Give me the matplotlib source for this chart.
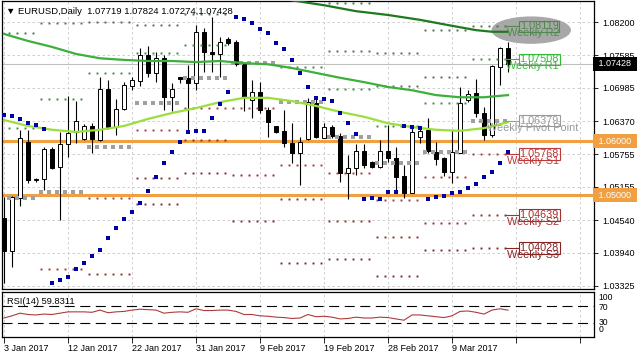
import matplotlib
matplotlib.use("Agg")
import matplotlib.pyplot as plt
from matplotlib.patches import Ellipse
import numpy as np

plt.rcParams['font.family'] = ['Liberation Sans', 'DejaVu Sans']

nan = float('nan')

# daily bars 3 Jan 2017 .. 17 Mar 2017 (the feed has Sunday bars too)
opens = [1.0458, 1.0397, 1.0495, 1.0598, 1.0528, 1.0530, 1.0585, 1.0552, 1.0595, 1.0617,
         1.0604, 1.0628, 1.0602, 1.0696, 1.0626, 1.0659, 1.0702, 1.0711, 1.0759, 1.0726,
         1.0753, 1.0681, 1.0718, 1.0717, 1.0707, 1.0802, 1.0765, 1.0761, 1.0789, 1.0783,
         1.0744, 1.0676, 1.0691, 1.0657, 1.0628, 1.0619, 1.0597, 1.0578, 1.0604, 1.0670,
         1.0606, 1.0626, 1.0610, 1.0541, 1.0550, 1.0582, 1.0561, 1.0552, 1.0582, 1.0569,
         1.0536, 1.0504, 1.0608, 1.0621, 1.0580, 1.0569, 1.0543, 1.0578, 1.0676, 1.0689,
         1.0652, 1.0611, 1.0737, 1.07719]
highs = [1.0497, 1.0499, 1.0621, 1.0621, 1.0532, 1.0589, 1.0589, 1.0617, 1.0683, 1.0674,
         1.0632, 1.0633, 1.0718, 1.0713, 1.0678, 1.0709, 1.0718, 1.0772, 1.0776, 1.0765,
         1.0759, 1.0707, 1.0718, 1.0741, 1.0814, 1.0809, 1.0829, 1.0792, 1.0792, 1.0787,
         1.0746, 1.0713, 1.0709, 1.0663, 1.0628, 1.0657, 1.0633, 1.0608, 1.0680, 1.0681,
         1.0633, 1.0629, 1.0615, 1.0574, 1.0595, 1.0595, 1.0563, 1.0602, 1.0630, 1.0589,
         1.0556, 1.0628, 1.0626, 1.0643, 1.0598, 1.0571, 1.0621, 1.0700, 1.0694, 1.0715,
         1.0663, 1.0741, 1.0774, 1.07824]
lows = [1.0338, 1.0368, 1.0480, 1.0523, 1.0525, 1.0510, 1.0548, 1.0454, 1.0571, 1.0597,
        1.0602, 1.0578, 1.0600, 1.0622, 1.0611, 1.0657, 1.0694, 1.0702, 1.0718, 1.0709,
        1.0657, 1.0656, 1.0707, 1.0615, 1.0694, 1.0728, 1.0728, 1.0718, 1.0778, 1.0739,
        1.0656, 1.0643, 1.0652, 1.0608, 1.0615, 1.0589, 1.0560, 1.0519, 1.0602, 1.0606,
        1.0606, 1.0606, 1.0525, 1.0493, 1.0537, 1.0550, 1.0550, 1.0550, 1.0561, 1.0504,
        1.0495, 1.0504, 1.0597, 1.0578, 1.0556, 1.0536, 1.0523, 1.0578, 1.0672, 1.0645,
        1.0602, 1.0608, 1.0704, 1.07274]
closes = [1.0397, 1.0497, 1.0606, 1.0528, 1.0530, 1.0585, 1.0550, 1.0595, 1.0615, 1.0637,
          1.0628, 1.0604, 1.0696, 1.0626, 1.0659, 1.0704, 1.0713, 1.0759, 1.0726, 1.0753,
          1.0681, 1.0696, 1.0715, 1.0707, 1.0802, 1.0765, 1.0761, 1.0783, 1.0781, 1.0742,
          1.0681, 1.0691, 1.0657, 1.0635, 1.0617, 1.0597, 1.0578, 1.0598, 1.0672, 1.0608,
          1.0626, 1.0610, 1.0541, 1.0550, 1.0582, 1.0556, 1.0552, 1.0582, 1.0569, 1.0534,
          1.0504, 1.0617, 1.0619, 1.0582, 1.0567, 1.0543, 1.0580, 1.0670, 1.0687, 1.0652,
          1.0611, 1.0739, 1.0772, 1.07428]

# parabolic SAR, one dot per bar
sar = [1.0648, 1.0646, 1.0641, 1.0634, 1.0630, 1.0622,
       1.0338, 1.0344, 1.0349, 1.0364, 1.0375, 1.0388, 1.0399, 1.0421, 1.0440, 1.0456,
       1.0469, 1.0486, 1.0508, 1.0534, 1.0560, 1.0580, 1.0598, 1.0617, 1.0619, 1.0619,
       1.0643, 1.0669, 1.0691,
       1.0829, 1.0826, 1.0818, 1.0807, 1.0800, 1.0781, 1.0770, 1.0750, 1.0726, 1.0700,
       1.0680, 1.0678, 1.0674, 1.0652, 1.0634, 1.0613,
       1.0493, 1.0495, 1.0493, 1.0506, 1.0506,
       1.0628, 1.0626, 1.0624,
       1.0493, 1.0497, 1.0499, 1.0504, 1.0506, 1.0513, 1.0521, 1.0534, 1.0543, 1.0560, 1.0580]

# moving averages (read every few bars)
ma_slow_idx = [33, 36, 40, 44, 48, 52, 56, 59, 61, 63]
ma_slow = [1.0868, 1.0860, 1.0851, 1.0840, 1.0833, 1.0824, 1.0813, 1.0805, 1.0802, 1.0802]
ma_idx = list(range(0, 64, 3))
ma_mid = [1.0798, 1.0785, 1.0774, 1.0761, 1.0753, 1.0750, 1.0748, 1.0748, 1.0746, 1.0748, 1.0744,
          1.0742, 1.0735, 1.0726, 1.0717, 1.0709, 1.0700, 1.0694, 1.0685, 1.0681, 1.0681, 1.0685]
ma_fast = [1.0639, 1.0628, 1.0621, 1.0617, 1.0621, 1.0628, 1.0641, 1.0652, 1.0661, 1.0672, 1.0680,
           1.0680, 1.0674, 1.0665, 1.0654, 1.0645, 1.0633, 1.0626, 1.0621, 1.0619, 1.0624, 1.0635]

# weekly pivot levels
week_first = [0, 4, 10, 16, 22, 28, 34, 40, 46, 52, 58]
week_bars = [4, 6, 6, 6, 6, 6, 6, 6, 6, 6, 5]
piv_p = [1.0495, 1.0506, 1.0589, 1.0671, 1.0716, 1.0744, 1.0672, 1.0607, 1.0560, 1.0580, 1.06379]
piv_r1 = [1.0624, 1.0678, 1.0726, 1.0762, 1.0778, nan, 1.0737, 1.0696, 1.0628, 1.0670, 1.07508]
piv_r2 = [1.0800, 1.0818, 1.0820, 1.0814, 1.0834, nan, nan, 1.0766, 1.0701, 1.0718, 1.08119]
piv_r3 = [nan, nan, nan, nan, nan, nan, nan, 1.0855, 1.0763, 1.0805, nan]
piv_s1 = [nan, 1.0364, 1.0495, 1.0621, 1.0661, 1.0661, 1.0556, 1.0541, 1.0491, 1.0534, 1.05768]
piv_s2 = [nan, nan, 1.0354, 1.0531, 1.0602, 1.0538, 1.0493, 1.0453, 1.0423, 1.0449, 1.04639]
piv_s3 = [nan, nan, nan, 1.0484, 1.0542, 1.0453, 1.0375, 1.0382, 1.0351, 1.0399, 1.04028]

rsi = [42, 47, 53, 50, 49, 51, 50, 53, 56, 56,
       56, 55, 60, 54, 56, 57, 60, 62, 61, 60,
       53, 55, 56, 55, 63, 59, 59, 60, 60, 57,
       50, 50, 47, 46, 44, 43, 41, 42, 50, 45,
       46, 44, 40, 41, 44, 42, 42, 44, 43, 40,
       37, 49, 49, 47, 45, 43, 47, 57, 58, 55,
       51, 60, 63, 59.8311]

price_ticks = [1.03325, 1.03940, 1.04540, 1.05155, 1.05755, 1.06370, 1.06985, 1.07585, 1.08200]
date_ticks = [0, 8, 16, 24, 32, 40, 48, 56, 64, 72]
date_labels = ['3 Jan 2017', '12 Jan 2017', '22 Jan 2017', '31 Jan 2017', '9 Feb 2017',
               '19 Feb 2017', '28 Feb 2017', '9 Mar 2017', '', '']
round_levels = [1.06000, 1.05000]

ORANGE = '#F0A040'
GRID = '#C8C8C8'

fig = plt.figure(figsize=(6.37, 3.58), dpi=100)
ax = fig.add_axes([2 / 637, 69 / 358, 592 / 637, 288 / 358])
ax2 = fig.add_axes([2 / 637, 21 / 358, 592 / 637, 45 / 358])

x = np.arange(len(opens))
o = np.array(opens)
c = np.array(closes)

# --- main chart
ax.set_xlim(-0.25, 73.75)
ax.set_ylim(1.03269, 1.08588)
ax.set_axisbelow(True)
ax.grid(True, color=GRID, ls=(0, (3, 3)), lw=0.6)

ax.axhline(closes[-1], color='#C0C0C0', lw=0.8, zorder=1)
for lv in round_levels:
    ax.axhline(lv, color=ORANGE, lw=2.2, zorder=2)

ax.add_patch(Ellipse((65.9, 1.0805), 9.75, 0.0048, color='#A8A8A8', zorder=1.5))

ax.vlines(x, lows, highs, color='black', lw=0.8, zorder=3)
body = np.maximum(np.abs(c - o), 1e-5)
ax.bar(x, body, bottom=np.minimum(o, c), width=0.62,
       color=['white' if cc >= oo else 'black' for oo, cc in zip(o, c)],
       edgecolor='black', linewidth=0.7, zorder=4)

# weekly pivot dots
for k, s in enumerate(week_first):
    xs = s + np.arange(week_bars[k]) + 0.6
    for lv, col, ms, mk in [(piv_r3[k], '#4A6F4A', 1.4, 's'), (piv_r2[k], '#4A6F4A', 1.4, 's'),
                            (piv_r1[k], '#3D8A3D', 1.4, 's'), (piv_p[k], '#A0A0A0', 2.4, 's'),
                            (piv_s1[k], '#A03A3A', 1.4, 's'), (piv_s2[k], '#8E2F2F', 1.4, 's'),
                            (piv_s3[k], '#7A2828', 1.4, 's')]:
        if np.isnan(lv):
            continue
        ax.plot(xs, [lv] * len(xs), ls='none', marker=mk, ms=ms, color=col, mew=0, zorder=5)

ax.plot(ma_slow_idx, ma_slow, color='#1F7A1F', lw=1.6, zorder=6)
ax.plot(ma_idx, ma_mid, color='#3CB03C', lw=1.6, zorder=6)
ax.plot(ma_idx, ma_fast, color='#9ADF3A', lw=1.6, zorder=6)

ax.plot(x, sar, ls='none', marker='s', ms=2.6, color='#0000A8', mew=0, zorder=7)

# labels of the current week's pivots
last = len(week_first) - 1
lab = [(piv_r2[last], 'Weekly R2', '#4E8A4E'), (piv_r1[last], 'Weekly R1', '#33BB33'),
       (piv_p[last], 'Weekly Pivot Point', '#9A9A9A'), (piv_s1[last], 'Weekly S1', '#C03838'),
       (piv_s2[last], 'Weekly S2', '#A53030'), (piv_s3[last], 'Weekly S3', '#862424')]
for lv, name, col in lab:
    ax.plot([62.6, 64.4], [lv, lv], color=col, lw=0.8, zorder=8)
    ax.text(66.1, lv - 0.00128, name, ha='center', va='center', fontsize=7.8,
            color=col, zorder=8)
    ax.text(66.9, lv, f'{lv:.5f}', ha='center', va='center', fontsize=7.8, color=col, zorder=9,
            bbox=dict(boxstyle='square,pad=0.08', fc='none', ec=col, lw=0.8))

ax.text(0.006, 0.965, '\u25bc EURUSD,Daily  %.5f %.5f %.5f,%.5f'
        % (opens[-1], highs[-1], lows[-1], closes[-1]),
        transform=ax.transAxes, fontsize=6.8, va='center', ha='left', zorder=10)

ax.yaxis.tick_right()
ax.set_yticks(price_ticks)
ax.set_yticklabels([f'{t:.5f}' for t in price_ticks])
ax.tick_params(axis='y', length=3, width=0.6, pad=3, labelsize=6.5)
ax.set_xticks(date_ticks)
ax.tick_params(axis='x', length=0, labelbottom=False)

# right-hand price boxes
ytr = ax.get_yaxis_transform()
for lv in round_levels:
    ax.text(1.003, lv, f' {lv:.5f}  ', transform=ytr, ha='left', va='center', fontsize=6.5,
            color='white', clip_on=False, zorder=10,
            bbox=dict(boxstyle='square,pad=0.3', fc=ORANGE, ec='none'))
ax.text(1.003, closes[-1], f' {closes[-1]:.5f}  ', transform=ytr, ha='left', va='center',
        fontsize=6.5, color='white', clip_on=False, zorder=10,
        bbox=dict(boxstyle='square,pad=0.3', fc='black', ec='none'))

for sp in ax.spines.values():
    sp.set_linewidth(0.9)

# --- RSI window
ax2.set_xlim(-0.25, 73.75)
ax2.set_ylim(-1.1, 101.1)
ax2.set_axisbelow(True)
ax2.grid(True, axis='x', color=GRID, ls=(0, (3, 3)), lw=0.6)
ax2.axhline(70, color='black', lw=0.8, ls=(0, (9, 5)))
ax2.axhline(30, color='black', lw=0.8, ls=(0, (9, 5)))
ax2.plot(x, rsi, color='#B03A3A', lw=0.8)
ax2.text(0.008, 0.8, 'RSI(14) %.4f' % rsi[-1], transform=ax2.transAxes, fontsize=6.7,
         va='center', ha='left')
ax2.set_yticks([])
ytr2 = ax2.get_yaxis_transform()
for lv, txt in [(88, '100'), (67, '70'), (32, '30'), (16, '0')]:
    ax2.text(1.008, lv, txt, transform=ytr2, fontsize=6.2, va='center', ha='left', clip_on=False)
ax2.set_xticks(date_ticks)
ax2.set_xticklabels(date_labels, ha='left')
ax2.tick_params(axis='x', length=4, width=0.6, pad=1, labelsize=6.5)
for sp in ax2.spines.values():
    sp.set_linewidth(0.9)

fig.savefig('out.png', dpi=100)
